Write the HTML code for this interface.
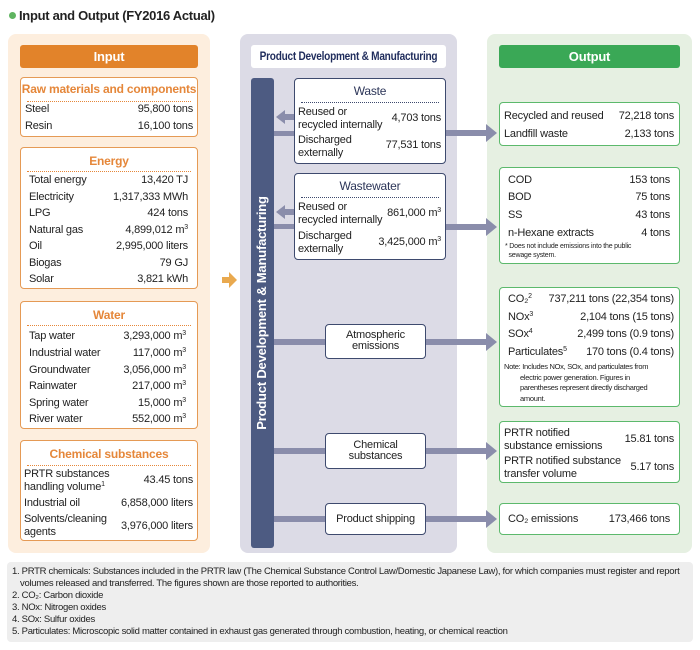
<!DOCTYPE html>
<html><head><meta charset="utf-8"><style>
*{margin:0;padding:0;box-sizing:border-box}
body{width:700px;height:650px;background:#fff;font-family:"Liberation Sans",sans-serif;color:#222;position:relative;overflow:hidden;font-size:11px;letter-spacing:-0.2px}
.a{position:absolute}
.panel{position:absolute;border-radius:8px}
.hdr{position:absolute;border-radius:3px;color:#fff;font-weight:bold;font-size:13px;text-align:center;line-height:23px}
.ob{position:absolute;background:#fff;border:1.2px solid #e59a55;border-radius:4px}
.ot{position:absolute;left:0;right:0;text-align:center;color:#e5873a;font-size:12px;font-weight:bold}
.dot{position:absolute;left:6px;right:6px;border-top:1.5px dotted #e5873a}
.nb{position:absolute;background:#fff;border:1.2px solid #3e4a6e;border-radius:4px}
.nt{position:absolute;left:0;right:0;text-align:center;color:#2c3558;font-size:12px}
.ndot{position:absolute;left:6px;right:6px;border-top:1.5px dotted #3e4a6e}
.gb{position:absolute;background:#fff;border:1.2px solid #5cb96c;border-radius:4px}
.l{position:absolute;white-space:nowrap;line-height:13px}
.r{position:absolute;white-space:nowrap;text-align:right;line-height:13px}
sup{font-size:7px;vertical-align:4px;line-height:0}
.fn{position:absolute;left:12px;font-size:9.5px;line-height:11px;letter-spacing:-0.3px;color:#222;white-space:nowrap}
</style></head><body>
<div class="a" style="left:9px;top:12px;width:7px;height:7px;border-radius:50%;background:#5fb460"></div>
<div class="a" style="left:19px;top:8px;font-size:13px;font-weight:bold;letter-spacing:-0.3px">Input and Output (FY2016 Actual)</div>

<div class="panel" style="left:8px;top:34px;width:202px;height:519px;background:#fdeede"></div>
<div class="panel" style="left:240px;top:34px;width:217px;height:519px;background:#dcdbe6"></div>
<div class="panel" style="left:487px;top:34px;width:205px;height:519px;background:#e6f0e2"></div>

<div class="hdr" style="left:20px;top:45px;width:178px;height:23px;background:#e2832a">Input</div>
<div class="a" style="left:251px;top:45px;width:195px;height:23px;background:#fff;border-radius:3px;overflow:hidden">
 <div style="position:absolute;left:-30px;width:255px;top:0;text-align:center;line-height:23px;color:#1f2c5c;font-weight:bold;font-size:12px;letter-spacing:-0.3px;white-space:nowrap;transform:scaleX(0.84)">Product Development &amp; Manufacturing</div>
</div>
<div class="hdr" style="left:499px;top:45px;width:181px;height:23px;background:#3aa856">Output</div>

<div class="ob" style="left:20px;top:77px;width:178px;height:60px">
 <div class="ot" style="top:4px">Raw materials and components</div><div class="dot" style="top:23px"></div>
 <div class="l" style="left:4px;top:25px">Steel</div><div class="r" style="right:4px;top:25px">95,800 tons</div>
 <div class="l" style="left:4px;top:42px">Resin</div><div class="r" style="right:4px;top:42px">16,100 tons</div>
</div>
<div class="ob" style="left:20px;top:147px;width:178px;height:142px">
 <div class="ot" style="top:6px">Energy</div><div class="dot" style="top:23px"></div>
 <div class="l" style="left:8px;top:26px">Total energy</div><div class="r" style="right:9px;top:26px">13,420 TJ</div>
 <div class="l" style="left:8px;top:43px">Electricity</div><div class="r" style="right:9px;top:43px">1,317,333 MWh</div>
 <div class="l" style="left:8px;top:59px">LPG</div><div class="r" style="right:9px;top:59px">424 tons</div>
 <div class="l" style="left:8px;top:76px">Natural gas</div><div class="r" style="right:9px;top:76px">4,899,012 m<sup>3</sup></div>
 <div class="l" style="left:8px;top:92px">Oil</div><div class="r" style="right:9px;top:92px">2,995,000 liters</div>
 <div class="l" style="left:8px;top:109px">Biogas</div><div class="r" style="right:9px;top:109px">79 GJ</div>
 <div class="l" style="left:8px;top:125px">Solar</div><div class="r" style="right:9px;top:125px">3,821 kWh</div>
</div>
<div class="ob" style="left:20px;top:301px;width:178px;height:128px">
 <div class="ot" style="top:6px">Water</div><div class="dot" style="top:23px"></div>
 <div class="l" style="left:8px;top:28px">Tap water</div><div class="r" style="right:11px;top:28px">3,293,000 m<sup>3</sup></div>
 <div class="l" style="left:8px;top:45px">Industrial water</div><div class="r" style="right:11px;top:45px">117,000 m<sup>3</sup></div>
 <div class="l" style="left:8px;top:62px">Groundwater</div><div class="r" style="right:11px;top:62px">3,056,000 m<sup>3</sup></div>
 <div class="l" style="left:8px;top:78px">Rainwater</div><div class="r" style="right:11px;top:78px">217,000 m<sup>3</sup></div>
 <div class="l" style="left:8px;top:95px">Spring water</div><div class="r" style="right:11px;top:95px">15,000 m<sup>3</sup></div>
 <div class="l" style="left:8px;top:111px">River water</div><div class="r" style="right:11px;top:111px">552,000 m<sup>3</sup></div>
</div>
<div class="ob" style="left:20px;top:440px;width:178px;height:101px">
 <div class="ot" style="top:6px">Chemical substances</div><div class="dot" style="top:24px"></div>
 <div class="l" style="left:3px;top:27px">PRTR substances<br>handling volume<sup>1</sup></div><div class="r" style="right:4px;top:33px">43.45 tons</div>
 <div class="l" style="left:3px;top:56px">Industrial oil</div><div class="r" style="right:4px;top:56px">6,858,000 liters</div>
 <div class="l" style="left:3px;top:72px">Solvents/cleaning<br>agents</div><div class="r" style="right:4px;top:79px">3,976,000 liters</div>
</div>

<svg class="a" style="left:0;top:0" width="700" height="560">
 <g fill="#e9a94f"><rect x="222" y="277" width="7" height="6"/><polygon points="229,272 237,280 229,288"/></g>
 <g fill="#8a8dab">
  <rect x="273" y="131" width="22" height="5"/><rect x="273" y="224" width="22" height="5"/>
  <rect x="284" y="114" width="11" height="6"/><polygon points="276,117 285,110 285,124"/>
  <rect x="284" y="209" width="11" height="6"/><polygon points="276,212 285,205 285,219"/>
  <rect x="446" y="130" width="41" height="6"/><polygon points="486,124 497,133 486,142"/>
  <rect x="446" y="224" width="41" height="6"/><polygon points="486,218 497,227 486,236"/>
  <rect x="273" y="339" width="53" height="6"/><rect x="426" y="339" width="61" height="6"/><polygon points="486,333 497,342 486,351"/>
  <rect x="273" y="448" width="53" height="6"/><rect x="426" y="448" width="61" height="6"/><polygon points="486,442 497,451 486,460"/>
  <rect x="273" y="516" width="53" height="6"/><rect x="426" y="516" width="61" height="6"/><polygon points="486,510 497,519 486,528"/>
 </g>
</svg>

<div class="a" style="left:251px;top:78px;width:23px;height:470px;background:#4d5b82;border-radius:3px"></div>
<div class="a" style="left:262px;top:313px;width:0;height:0"><div style="position:absolute;left:-200px;top:-8px;width:400px;text-align:center;color:#fff;font-weight:bold;font-size:13px;line-height:16px;transform:rotate(-90deg);white-space:nowrap">Product Development &amp; Manufacturing</div></div>

<div class="nb" style="left:294px;top:78px;width:152px;height:86px">
 <div class="nt" style="top:5px">Waste</div><div class="ndot" style="top:23px"></div>
 <div class="l" style="left:3px;top:27px">Reused or<br>recycled internally</div><div class="r" style="right:4px;top:33px">4,703 tons</div>
 <div class="l" style="left:3px;top:55px">Discharged<br>externally</div><div class="r" style="right:4px;top:60px">77,531 tons</div>
</div>
<div class="nb" style="left:294px;top:173px;width:152px;height:87px">
 <div class="nt" style="top:5px">Wastewater</div><div class="ndot" style="top:23px"></div>
 <div class="l" style="left:3px;top:27px">Reused or<br>recycled internally</div><div class="r" style="right:4px;top:33px">861,000 m<sup>3</sup></div>
 <div class="l" style="left:3px;top:56px">Discharged<br>externally</div><div class="r" style="right:4px;top:62px">3,425,000 m<sup>3</sup></div>
</div>
<div class="nb" style="left:325px;top:324px;width:101px;height:35px;text-align:center;line-height:11px;padding-top:5px">Atmospheric<br>emissions</div>
<div class="nb" style="left:325px;top:433px;width:101px;height:36px;text-align:center;line-height:11px;padding-top:6px">Chemical<br>substances</div>
<div class="nb" style="left:325px;top:503px;width:101px;height:32px;text-align:center;line-height:30px">Product shipping</div>

<div class="gb" style="left:499px;top:102px;width:181px;height:44px">
 <div class="l" style="left:4px;top:7px">Recycled and reused</div><div class="r" style="right:5px;top:7px">72,218 tons</div>
 <div class="l" style="left:4px;top:25px">Landfill waste</div><div class="r" style="right:5px;top:25px">2,133 tons</div>
</div>
<div class="gb" style="left:499px;top:167px;width:181px;height:97px">
 <div class="l" style="left:8px;top:6px">COD</div><div class="r" style="right:9px;top:6px">153 tons</div>
 <div class="l" style="left:8px;top:23px">BOD</div><div class="r" style="right:9px;top:23px">75 tons</div>
 <div class="l" style="left:8px;top:41px">SS</div><div class="r" style="right:9px;top:41px">43 tons</div>
 <div class="l" style="left:8px;top:59px">n-Hexane extracts</div><div class="r" style="right:9px;top:59px">4 tons</div>
 <div class="l" style="left:5px;top:74px;font-size:7px;line-height:9px;letter-spacing:-0.2px">* Does not include emissions into the public<br>&nbsp;&nbsp;sewage system.</div>
</div>
<div class="gb" style="left:499px;top:287px;width:181px;height:120px">
 <div class="l" style="left:8px;top:5px">CO₂<sup>2</sup></div><div class="r" style="right:5px;top:5px">737,211 tons (22,354 tons)</div>
 <div class="l" style="left:8px;top:23px">NOx<sup>3</sup></div><div class="r" style="right:5px;top:23px">2,104 tons (15 tons)</div>
 <div class="l" style="left:8px;top:40px">SOx<sup>4</sup></div><div class="r" style="right:5px;top:40px">2,499 tons (0.9 tons)</div>
 <div class="l" style="left:8px;top:58px">Particulates<sup>5</sup></div><div class="r" style="right:5px;top:58px">170 tons (0.4 tons)</div>
 <div class="l" style="left:4px;top:74px;font-size:7.5px;line-height:10.5px;letter-spacing:-0.3px">Note: Includes NOx, SOx, and particulates from<br>&nbsp;&nbsp;&nbsp;&nbsp;&nbsp;&nbsp;&nbsp;&nbsp;&nbsp;electric power generation. Figures in<br>&nbsp;&nbsp;&nbsp;&nbsp;&nbsp;&nbsp;&nbsp;&nbsp;&nbsp;parentheses represent directly discharged<br>&nbsp;&nbsp;&nbsp;&nbsp;&nbsp;&nbsp;&nbsp;&nbsp;&nbsp;amount.</div>
</div>
<div class="gb" style="left:499px;top:421px;width:181px;height:62px">
 <div class="l" style="left:4px;top:5px">PRTR notified<br>substance emissions</div><div class="r" style="right:5px;top:11px">15.81 tons</div>
 <div class="l" style="left:4px;top:33px">PRTR notified substance<br>transfer volume</div><div class="r" style="right:5px;top:39px">5.17 tons</div>
</div>
<div class="gb" style="left:499px;top:503px;width:181px;height:32px">
 <div class="l" style="left:8px;top:9px">CO₂ emissions</div><div class="r" style="right:9px;top:9px">173,466 tons</div>
</div>

<div class="a" style="left:7px;top:562px;width:686px;height:80px;background:#eeeeee;border-radius:4px"></div>
<div class="fn" style="top:566px">1. PRTR chemicals: Substances included in the PRTR law (The Chemical Substance Control Law/Domestic Japanese Law), for which companies must register and report</div>
<div class="fn" style="top:578px;left:20px">volumes released and transferred. The figures shown are those reported to authorities.</div>
<div class="fn" style="top:590px">2. CO₂: Carbon dioxide</div>
<div class="fn" style="top:602px">3. NOx: Nitrogen oxides</div>
<div class="fn" style="top:614px">4. SOx: Sulfur oxides</div>
<div class="fn" style="top:626px">5. Particulates: Microscopic solid matter contained in exhaust gas generated through combustion, heating, or chemical reaction</div>
</body></html>
